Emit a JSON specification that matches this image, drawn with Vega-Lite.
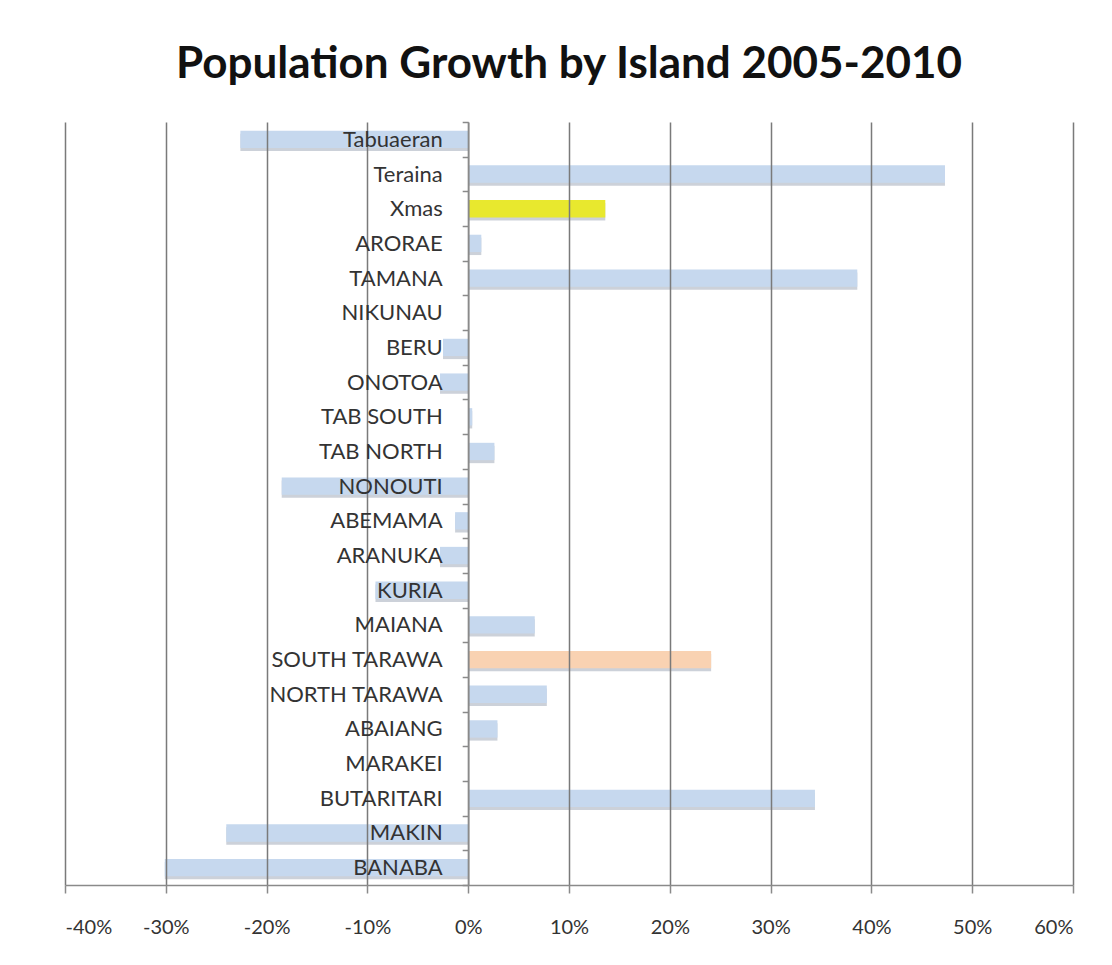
{
  "$schema": "https://vega.github.io/schema/vega-lite/v6.json",
  "autosize": "none",
  "width": 1008,
  "height": 763,
  "padding": {"left": 65, "top": 122, "right": 39, "bottom": 80},
  "background": "white",
  "config": {"view": {"stroke": null}},
  "title": {
    "text": "Population Growth by Island 2005-2010",
    "font": "Lato",
    "fontWeight": "bold",
    "fontSize": 44,
    "color": "#111111",
    "anchor": "middle",
    "offset": 24
  },
  "data": {
    "values": [
      {"island": "Tabuaeran", "growth": -0.226, "group": "other"},
      {"island": "Teraina", "growth": 0.473, "group": "other"},
      {"island": "Xmas", "growth": 0.136, "group": "xmas"},
      {"island": "ARORAE", "growth": 0.013, "group": "other"},
      {"island": "TAMANA", "growth": 0.386, "group": "other"},
      {"island": "NIKUNAU", "growth": 0.0, "group": "other"},
      {"island": "BERU", "growth": -0.025, "group": "other"},
      {"island": "ONOTOA", "growth": -0.028, "group": "other"},
      {"island": "TAB SOUTH", "growth": 0.004, "group": "other"},
      {"island": "TAB NORTH", "growth": 0.026, "group": "other"},
      {"island": "NONOUTI", "growth": -0.185, "group": "other"},
      {"island": "ABEMAMA", "growth": -0.013, "group": "other"},
      {"island": "ARANUKA", "growth": -0.028, "group": "other"},
      {"island": "KURIA", "growth": -0.092, "group": "other"},
      {"island": "MAIANA", "growth": 0.066, "group": "other"},
      {"island": "SOUTH TARAWA", "growth": 0.241, "group": "south"},
      {"island": "NORTH TARAWA", "growth": 0.078, "group": "other"},
      {"island": "ABAIANG", "growth": 0.029, "group": "other"},
      {"island": "MARAKEI", "growth": 0.0, "group": "other"},
      {"island": "BUTARITARI", "growth": 0.344, "group": "other"},
      {"island": "MAKIN", "growth": -0.24, "group": "other"},
      {"island": "BANABA", "growth": -0.301, "group": "other"}
    ]
  },
  "encoding": {
    "y": {
      "field": "island",
      "type": "nominal",
      "sort": null,
      "scale": {"paddingInner": 0, "paddingOuter": 0}
    },
    "x": {
      "field": "growth",
      "type": "quantitative",
      "scale": {"domain": [-0.4, 0.6], "nice": false, "zero": false}
    }
  },
  "layer": [
    {
      "mark": {"type": "bar", "height": {"band": 0.5}, "color": "#8e99ab", "opacity": 0.45, "yOffset": 3},
      "encoding": {
        "x": {
          "field": "growth",
          "type": "quantitative",
          "scale": {"domain": [-0.4, 0.6], "nice": false, "zero": false},
          "axis": {
            "title": null,
            "format": ".0%",
            "labelExpr": "replace(datum.label, '\u2212', '-')",
            "values": [-0.4, -0.3, -0.2, -0.1, 0, 0.1, 0.2, 0.3, 0.4, 0.5, 0.6],
            "grid": true,
            "gridColor": "#7a7a7a",
            "gridWidth": 1.5,
            "domainColor": "#8a8a8a",
            "domainWidth": 1.5,
            "tickColor": "#8a8a8a",
            "tickWidth": 1.5,
            "tickSize": 8,
            "labelPadding": 24,
            "labelFont": "Lato",
            "labelFontSize": 20,
            "labelColor": "#333333",
            "zindex": 1
          }
        },
        "y": {
          "field": "island",
          "type": "nominal",
          "sort": null,
          "axis": {
            "title": null,
            "offset": -403.2,
            "tickBand": "extent",
            "domainColor": "#8a8a8a",
            "domainWidth": 1.5,
            "tickColor": "#8a8a8a",
            "tickWidth": 1.5,
            "tickSize": 6,
            "labelPadding": 20,
            "labelFont": "Lato",
            "labelFontSize": 22,
            "labelColor": "#333333",
            "zindex": 1
          }
        }
      }
    },
    {
      "mark": {"type": "bar", "height": {"band": 0.5}},
      "encoding": {
        "color": {
          "field": "group",
          "type": "nominal",
          "scale": {"domain": ["other", "xmas", "south"], "range": ["#c6d8ee", "#e8e82e", "#f9d2b2"]},
          "legend": null
        }
      }
    }
  ]
}
